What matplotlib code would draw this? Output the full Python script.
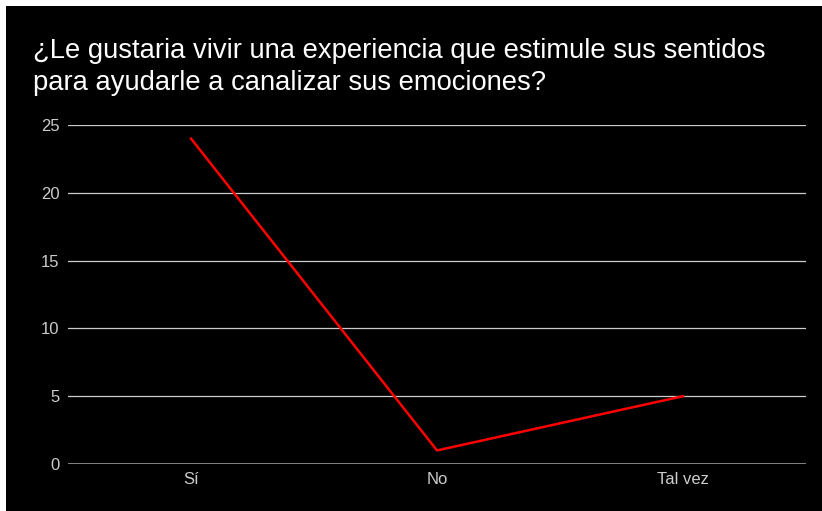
import matplotlib.pyplot as plt
from matplotlib.patches import Rectangle

categories = ['Sí', 'No', 'Tal vez']
values = [24, 1, 5]
yticks = [0, 5, 10, 15, 20, 25]
title = '¿Le gustaria vivir una experiencia que estimule sus sentidos\npara ayudarle a canalizar sus emociones?'

plt.rcParams['font.family'] = ['Liberation Sans', 'DejaVu Sans']

W, H = 822, 511
fig = plt.figure(figsize=(W / 100, H / 100), dpi=100, facecolor='white')
# black card, white strip top and left
fig.patches.append(Rectangle((6 / W, 0), 1, (H - 6) / H, transform=fig.transFigure,
                             facecolor='black', edgecolor='none', zorder=-5))

ax = fig.add_axes([68 / W, (H - 464) / H, (806 - 68) / W, (464 - 125) / H])
ax.set_facecolor('black')
ax.plot(range(len(categories)), values, color='#ff0000', linewidth=1.8, zorder=3)

ax.set_xlim(-0.5, len(categories) - 0.5)
ax.set_ylim(0, 25)
ax.set_yticks(yticks)
ax.set_xticks(range(len(categories)))
ax.set_xticklabels(categories)
for y in yticks[1:]:
    ax.axhline(y, color='#cccccc', linewidth=0.9, zorder=1)
ax.axhline(0, color='#999999', linewidth=1.2, zorder=2)

for s in ax.spines.values():
    s.set_visible(False)
ax.tick_params(axis='both', length=0, colors='#cccccc', labelsize=12)
ax.tick_params(axis='y', pad=6)
ax.tick_params(axis='x', pad=6)

fig.text(33 / W, 1 - 38 / H, title, color='white', fontsize=19.7, ha='left', va='top',
         linespacing=1.3)

fig.savefig('out.png', dpi=100, facecolor=fig.get_facecolor())
